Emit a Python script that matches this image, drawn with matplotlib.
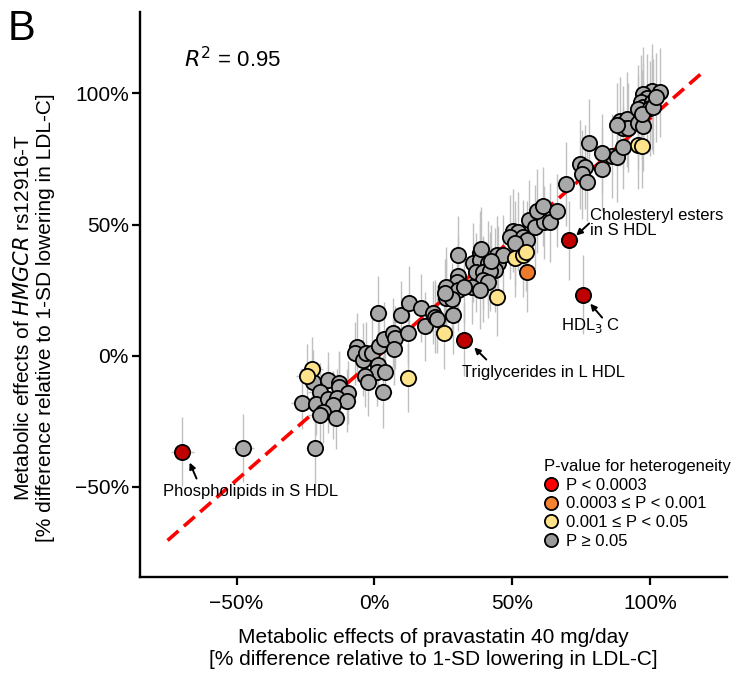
import matplotlib
matplotlib.use("Agg")
import matplotlib.pyplot as plt
from matplotlib.lines import Line2D
import numpy as np

plt.rcParams['font.family'] = ['Liberation Sans', 'DejaVu Sans']

# --- data (% difference relative to 1-SD lowering in LDL-C) ---
# pravastatin effect (x), HMGCR rs12916-T effect (y), error half-widths, heterogeneity group
prav = [-47.8, -21.7, -26.4, -22.1, -17.0, -13.0, -12.7, -19.9, -9.4, -21.0,
        -17.0, -13.4, -9.8, -14.9, -18.5, -19.9, -13.8, -6.2, -6.9, -4.0,
        -2.9, -0.7, 1.8, 3.6, 6.9, 7.6, 7.2, 1.4, 1.1, 4.0,
        -3.3, -2.2, 3.3, 1.4, 9.8, 12.3, 12.7, 17.0, 21.4, 18.5,
        30.4, 38.4, 35.9, 38.4, 41.3, 44.6, 44.9, 43.8, 37.0, 39.5,
        42.0, 39.5, 41.3, 30.4, 30.1, 26.1, 30.4, 35.5, 38.4, 32.6,
        26.1, 28.3, 25.7, 22.1, 22.8, 28.6, 38.8, 46.7, 42.4, 50.4,
        52.2, 49.3, 54.0, 55.4, 51.1, 56.2, 58.3, 61.6, 63.8, 59.1,
        61.2, 66.3, 69.6, 74.6, 76.4, 75.4, 77.2, 82.6, 77.9, 86.2,
        88.0, 90.2, 82.6, 89.1, 91.7, 90.2, 92.0, 88.0, 95.7, 97.5,
        100.7, 103.6, 97.5, 98.9, 96.7, 97.5, 100.7, 95.7, 100.0, 97.1,
        101.1, 102.2,
        # yellow
        -22.8, -24.3, 12.3, 25.4, 44.6, 51.1, 54.0, 55.1, 95.7, 97.1,
        # orange
        55.4,
        # red
        -69.6, 32.6, 70.7, 75.7]
hmgcr = [-35.1, -35.1, -17.9, -9.9, -9.5, -10.3, -11.8, -13.7, -14.1, -18.3,
         -16.4, -16.0, -17.2, -18.7, -21.4, -22.5, -23.7, 3.4, 0.8, -1.5,
         0.8, 0.8, 3.8, 6.5, 8.8, 6.9, 2.7, -3.4, -6.1, -6.1,
         -7.6, -9.9, -13.7, 16.4, 15.3, 8.8, 20.2, 18.3, 16.4, 11.1,
         38.2, 39.3, 35.5, 36.3, 35.5, 38.2, 35.5, 32.8, 31.7, 31.7,
         32.1, 29.0, 28.2, 30.5, 27.9, 26.3, 25.2, 26.0, 25.2, 26.3,
         22.1, 21.4, 23.7, 14.9, 14.1, 15.6, 40.5, 38.5, 35.9, 47.7,
         47.3, 45.4, 45.4, 43.9, 43.1, 51.9, 49.2, 50.8, 50.8, 55.0,
         56.9, 55.3, 65.6, 72.9, 71.8, 69.1, 66.4, 71.0, 80.9, 76.0,
         75.6, 79.4, 77.1, 89.3, 90.1, 87.0, 87.0, 87.8, 88.9, 87.4,
         100.8, 100.4, 99.6, 98.1, 96.6, 94.7, 96.6, 93.9, 94.3, 92.0,
         95.0, 98.5,
         -5.0, -7.6, -8.4, 8.8, 22.5, 37.4, 38.5, 39.7, 80.5, 79.8,
         31.7,
         -36.6, 6.1, 43.9, 23.3]
prav_err = [4, 3, 4, 4, 3, 3, 3, 4, 3, 4,
            3, 3, 3, 3, 3, 4, 3, 3, 3, 3,
            3, 3, 3, 3, 3, 3, 3, 3, 3, 3,
            3, 3, 3, 3, 3, 3, 3, 3, 3, 3,
            3, 3, 3, 3, 3, 3, 3, 3, 3, 3,
            3, 3, 3, 3, 3, 3, 3, 3, 3, 3,
            3, 3, 3, 3, 3, 3, 3, 3, 3, 3,
            3, 3, 3, 3, 3, 3, 3, 3, 3, 3,
            3, 3, 3, 3, 3, 3, 3, 3, 3, 3,
            3, 3, 3, 3, 3, 3, 3, 3, 3, 3,
            3, 3, 3, 3, 3, 3, 3, 3, 3, 3,
            3, 3,
            4, 4, 3, 3, 3, 3, 3, 3, 3, 3,
            3,
            4, 3, 3, 3]
hmgcr_err = [13, 14, 10, 12, 11, 12, 13, 11, 12, 12,
             13, 11, 12, 13, 12, 14, 12, 13, 12, 14,
             12, 13, 12, 14, 13, 12, 14, 12, 13, 11,
             12, 13, 14, 14, 13, 12, 14, 13, 12, 13,
             15, 16, 15, 14, 16, 15, 14, 16, 15, 14,
             15, 16, 14, 15, 14, 15, 16, 14, 15, 14,
             15, 14, 13, 14, 13, 15, 16, 15, 14, 16,
             15, 16, 14, 15, 16, 15, 16, 14, 15, 16,
             15, 14, 16, 17, 16, 17, 15, 16, 17, 16,
             17, 16, 15, 17, 18, 16, 17, 16, 18, 17,
             18, 17, 18, 17, 18, 17, 18, 17, 18, 17,
             18, 17,
             12, 12, 13, 14, 15, 15, 16, 15, 17, 16,
             15,
             13, 14, 15, 15]
het_group = ["ns"] * 112 + ["mid"] * 10 + ["low"] * 1 + ["sig"] * 4

group_fill = {"sig": "#C00000", "low": "#EE7B2C", "mid": "#FFE38A", "ns": "#A9A9A9"}
legend_labels = ["P < 0.0003", "0.0003 \u2264 P < 0.001", "0.001 \u2264 P < 0.05", "P \u2265 0.05"]
legend_fill = ["#FF0000", "#F58231", "#FFE38A", "#999999"]

fit_slope, fit_intercept = 0.92, -1.5
fit_x = [-75, 120]

prav = np.array(prav); hmgcr = np.array(hmgcr)
prav_err = np.array(prav_err); hmgcr_err = np.array(hmgcr_err)
het_group = np.array(het_group)

fig = plt.figure(figsize=(7.35, 6.75), dpi=100)
ax = fig.add_axes([0.1905, 0.145, 0.799, 0.837])

# error bars
ax.errorbar(prav, hmgcr, xerr=prav_err, yerr=hmgcr_err, fmt="none",
            ecolor="#C0C0C0", elinewidth=1.0, capsize=0, zorder=1)

# fitted line
fx = np.array(fit_x)
ax.plot(fx, fit_slope * fx + fit_intercept, color="#FF0000", lw=2.6,
        dashes=(4, 2), zorder=2)

for g, z in [("ns", 3), ("mid", 4), ("low", 5), ("sig", 6)]:
    m = het_group == g
    ax.scatter(prav[m], hmgcr[m], s=120, c=group_fill[g], edgecolors="black",
               linewidths=1.3, zorder=z)

ax.set_xlim(-85, 128)
ax.set_ylim(-84.5, 131)
ticks = [-50, 0, 50, 100]
ax.set_xticks(ticks)
ax.set_yticks(ticks)
ax.set_xticklabels(["\u221250%", "0%", "50%", "100%"], fontsize=15)
ax.set_yticklabels(["\u221250%", "0%", "50%", "100%"], fontsize=15)
ax.tick_params(direction="out", length=6, width=1.6)
ax.tick_params(axis="x", pad=6)
ax.tick_params(axis="y", pad=2)
for s in ["top", "right"]:
    ax.spines[s].set_visible(False)
for s in ["left", "bottom"]:
    ax.spines[s].set_linewidth(1.7)

ax.set_xlabel("Metabolic effects of pravastatin 40 mg/day\n[% difference relative to 1-SD lowering in LDL-C]",
              fontsize=15, linespacing=1.2, va="center")
ax.xaxis.set_label_coords(0.5, -0.1265)
ax.set_ylabel("Metabolic effects of $\\it{HMGCR}$ rs12916-T\n[% difference relative to 1-SD lowering in LDL-C]",
              fontsize=15, linespacing=1.2, va="center")
ax.yaxis.set_label_coords(-0.181, 0.46)

ax.text(-69, 113, "$\\it{R}^2$ = 0.95", fontsize=16, va="center", ha="left")
fig.text(0.010, 0.957, "B", fontsize=30, va="center", ha="left")

# annotations
arrow = dict(arrowstyle="-|>", color="black", lw=1.4, mutation_scale=9, shrinkA=0, shrinkB=0)
ax.annotate("", xy=(-67.0, -40.8), xytext=(-64.5, -46.9), arrowprops=arrow)
ax.text(-76.8, -52.0, "Phospholipids in S HDL", fontsize=12, va="center", ha="left")
ax.annotate("", xy=(36.2, 3.1), xytext=(40.6, -1.5), arrowprops=arrow)
ax.text(31.9, -6.3, "Triglycerides in L HDL", fontsize=12, va="center", ha="left")
ax.annotate("", xy=(73.2, 45.8), xytext=(77.9, 50.4), arrowprops=arrow)
ax.text(78.3, 50.6, "Cholesteryl esters\nin S HDL", fontsize=12, va="center", ha="left",
        linespacing=1.0)
ax.annotate("", xy=(78.3, 19.8), xytext=(82.6, 14.5), arrowprops=arrow)
ax.text(78.5, 11.5, "HDL$_3$ C", fontsize=12, va="center", ha="center")

handles = [Line2D([], [], marker="o", ls="none", markersize=9.5, markerfacecolor=c,
                  markeredgecolor="black", markeredgewidth=1.3) for c in legend_fill]
leg = ax.legend(handles, legend_labels, title="P-value for heterogeneity", loc="upper left",
                bbox_to_anchor=(0.740, 0.320), bbox_transform=fig.transFigure,
                frameon=False, fontsize=12, title_fontsize=12, handlelength=0.8,
                handletextpad=0.55, labelspacing=0.22, borderpad=0, borderaxespad=0)
leg._legend_box.align = "left"

fig.savefig("out.png", dpi=100)
